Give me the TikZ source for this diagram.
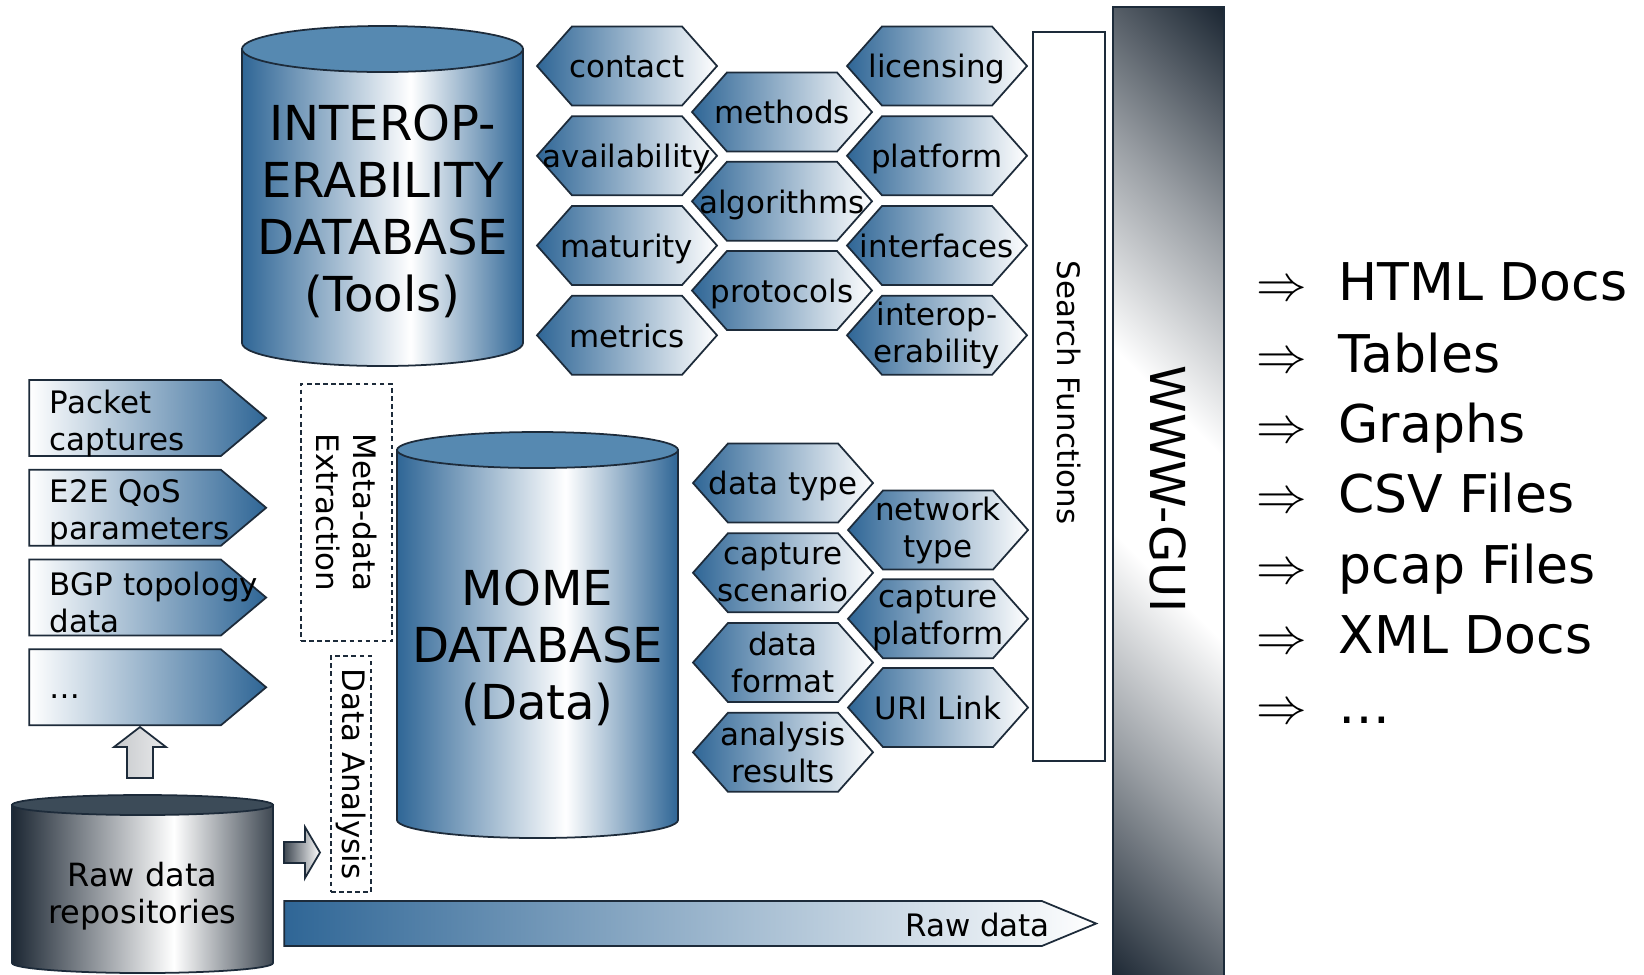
\documentclass[tikz,border=0pt]{standalone}
\usepackage{fontspec}
\setmainfont{DejaVu Sans}
\usetikzlibrary{shapes.symbols, positioning, calc}
\definecolor{momeblue}{HTML}{2F6696}
\definecolor{momecap}{HTML}{5689B1}
\definecolor{slate}{HTML}{1C2733}
\definecolor{slatecap}{HTML}{3C4B58}
\definecolor{edge}{HTML}{1D2B3A}
\pgfdeclarehorizontalshading{dbbody}{100bp}{color(0bp)=(momeblue); color(25bp)=(momeblue); color(55bp)=(white); color(75bp)=(momeblue); color(100bp)=(momeblue)}
\pgfdeclarehorizontalshading{rawbody}{100bp}{color(0bp)=(slate); color(25bp)=(slate); color(56bp)=(white); color(75bp)=(slate!85); color(100bp)=(slate!85)}
\pgfdeclarehorizontalshading{guitent}{100bp}{color(0bp)=(slate); color(14.6bp)=(slate); color(30bp)=(slate!45); color(44bp)=(white); color(56bp)=(white); color(70bp)=(slate!45); color(85.4bp)=(slate); color(100bp)=(slate)}

\begin{document}
\begin{tikzpicture}[
    x=0.1mm, y=-0.1mm,
    node distance=0.9mm,
    edgeline/.style={draw=edge, line width=0.5pt},
    smallfont/.style={font=\fontsize{8.8pt}{10.5pt}\selectfont},
    hex/.style={signal, signal to=east and west, signal pointer angle=97, edgeline, left color=momeblue, right color=white, minimum width=18mm, minimum height=7.9mm, inner xsep=-5mm, inner ysep=0pt, align=center, smallfont},
    hexone/.style={hex, text height=6.8pt, text depth=0pt},
    inbox/.style={signal, signal to=east, signal pointer angle=80, edgeline, left color=white, right color=momeblue, minimum width=23.7mm, minimum height=7.6mm, inner sep=0pt},
    boxtext/.style={anchor=west, align=left, inner sep=0pt, smallfont},
    dashbox/.style={draw=edge, line width=0.5pt, dash pattern=on 1.3pt off 1pt, inner sep=0pt},
    vtext/.style={rotate=-90, align=center, inner sep=0pt, smallfont},
    dbtext/.style={align=center, inner sep=0pt, font=\fontsize{13.7pt}{16.2pt}\selectfont},
    outtext/.style={anchor=base west, inner sep=0pt, font=\fontsize{14.8pt}{20pt}\selectfont}
  ]
    \fill[white] (0,0) rectangle (1644,974);
    \useasboundingbox (0,0) rectangle (1644,974);

    % Web front end
    \node[edgeline, shade, shading=guitent, shading angle=45, minimum width=11.1mm, minimum height=97.6mm, inner sep=0pt, anchor=north] (guibar) at (1168.5,6) {};
    \node[rotate=-90, inner sep=0pt, font=\fontsize{13.7pt}{16pt}\selectfont] (guitxt) at ($(guibar.center)+(0,-6)$) {WWW-GUI};
    \node[edgeline, fill=white, minimum width=7.2mm, minimum height=72.9mm, inner sep=0pt] (searchbox) at (1069,396.5) {};
    \node[vtext] (searchtxt) at ($(searchbox)+(0,-4)$) {Search Functions};

    % Interoperability database
    \shadedraw[shading=dbbody, edgeline] (242,49) -- (242,343) arc[start angle=180, end angle=360, x radius=14.05mm, y radius=2.3mm] -- (523,49) -- cycle;
    \filldraw[fill=momecap, edgeline] (382.5,49) ellipse[x radius=14.05mm, y radius=2.3mm];
    \node[dbtext] (interopdb) at (382.5,211) {INTEROP-\\ERABILITY\\DATABASE\\(Tools)};

    \node[hexone] (contact) at (627,66) {contact};
    \node[hexone, below=of contact] (availability) {availability};
    \node[hexone, below=of availability] (maturity) {maturity};
    \node[hexone, below=of maturity] (metrics) {metrics};

    \node[hexone] (methods) at (782,112) {methods};
    \node[hexone, below=0.85mm of methods] (algorithms) {algorithms};
    \node[hexone, below=0.85mm of algorithms] (protocols) {protocols};

    \node[hexone] (licensing) at (937,66) {licensing};
    \node[hexone, below=of licensing] (platform) {platform};
    \node[hexone, below=of platform] (interfaces) {interfaces};
    \node[hex, below=of interfaces] (interop) {interop-\\erability};

    % MOME database
    \shadedraw[shading=dbbody, edgeline] (397,450) -- (397,820) arc[start angle=180, end angle=360, x radius=14.05mm, y radius=1.8mm] -- (678,450) -- cycle;
    \filldraw[fill=momecap, edgeline] (537.5,450) ellipse[x radius=14.05mm, y radius=1.8mm];
    \node[dbtext] (momedb) at (537.5,648) {MOME\\DATABASE\\(Data)};

    \node[hexone] (datatype) at (783,483) {data type};
    \node[hex, below=of datatype] (capscenario) {capture\\scenario};
    \node[hex, below=of capscenario] (dataformat) {data\\format};
    \node[hex, below=of dataformat] (results) {analysis\\results};

    \node[hex] (nettype) at (938,530) {network\\type};
    \node[hex, below=0.8mm of nettype] (capplatform) {capture\\platform};
    \node[hexone, below=0.8mm of capplatform] (urilink) {URI Link};

    % Measurement inputs
    \node[inbox] (packets) at (125,418) {};
    \node[inbox, below=1.2mm of packets] (qos) {};
    \node[inbox, below=1.2mm of qos] (bgp) {};
    \node[inbox, below=1.2mm of bgp] (more) {};
    \node[boxtext] (packetstxt) at ($(packets.west)+(21,5)$) {Packet\\captures};
    \node[boxtext] (qostxt) at ($(qos.west)+(21,5)$) {E2E QoS\\parameters};
    \node[boxtext] (bgptxt) at ($(bgp.west)+(21,5)$) {BGP topology\\data};
    \node[boxtext, anchor=base west] (moretxt) at ($(more.west)+(21,11)$) {\dots};

    % Processing steps
    \node[dashbox, minimum width=9.1mm, minimum height=25.7mm] (metabox) at (346.5,512.5) {};
    \node[vtext] (metatxt) at (metabox) {Meta-data\\Extraction};
    \node[dashbox, minimum width=4mm, minimum height=23.6mm] (analysisbox) at (351,774) {};
    \node[vtext] (analysistxt) at (analysisbox) {Data Analysis};

    % Raw data repositories
    \shadedraw[shading=rawbody, edgeline] (12,805) -- (12,963) arc[start angle=180, end angle=360, x radius=13.05mm, y radius=1mm] -- (273,805) -- cycle;
    \filldraw[fill=slatecap, edgeline] (142.5,805) ellipse[x radius=13.05mm, y radius=1mm];
    \node[align=center, inner sep=0pt, font=\fontsize{9.1pt}{10.5pt}\selectfont] (rawdb) at (142.5,896) {Raw data\\repositories};

    \draw[edgeline, left color=slate!25, middle color=white, right color=slate!10] (127,778) -- (127,747) -- (114,747) -- (140,727) -- (166,747) -- (153,747) -- (153,778) -- cycle;
    \draw[edgeline, left color=slate!85, right color=white] (284,842) -- (305,842) -- (305,827) -- (320,852.5) -- (305,878) -- (305,863) -- (284,863) -- cycle;

    \node[signal, signal to=east, signal pointer angle=45, edgeline, left color=momeblue, right color=white, minimum width=81.2mm, minimum height=4.5mm, inner sep=0pt] (rawbar) at (663,923.5) {};
    \node[anchor=base east, inner sep=0pt, smallfont] (rawtxt) at ($(rawbar.east)+(-48,12.5)$) {Raw data};

    % Output formats
    \node[outtext] (out1) at (1256,300) {$\Rightarrow$\hspace{0.6em}HTML Docs};
    \node[outtext] (out2) at (1256,372) {$\Rightarrow$\hspace{0.6em}Tables};
    \node[outtext] (out3) at (1256,442) {$\Rightarrow$\hspace{0.6em}Graphs};
    \node[outtext] (out4) at (1256,512) {$\Rightarrow$\hspace{0.6em}CSV Files};
    \node[outtext] (out5) at (1256,583) {$\Rightarrow$\hspace{0.6em}pcap Files};
    \node[outtext] (out6) at (1256,653) {$\Rightarrow$\hspace{0.6em}XML Docs};
    \node[outtext] (out7) at (1256,723) {$\Rightarrow$\hspace{0.6em}\dots};
  \end{tikzpicture}
\end{document}
